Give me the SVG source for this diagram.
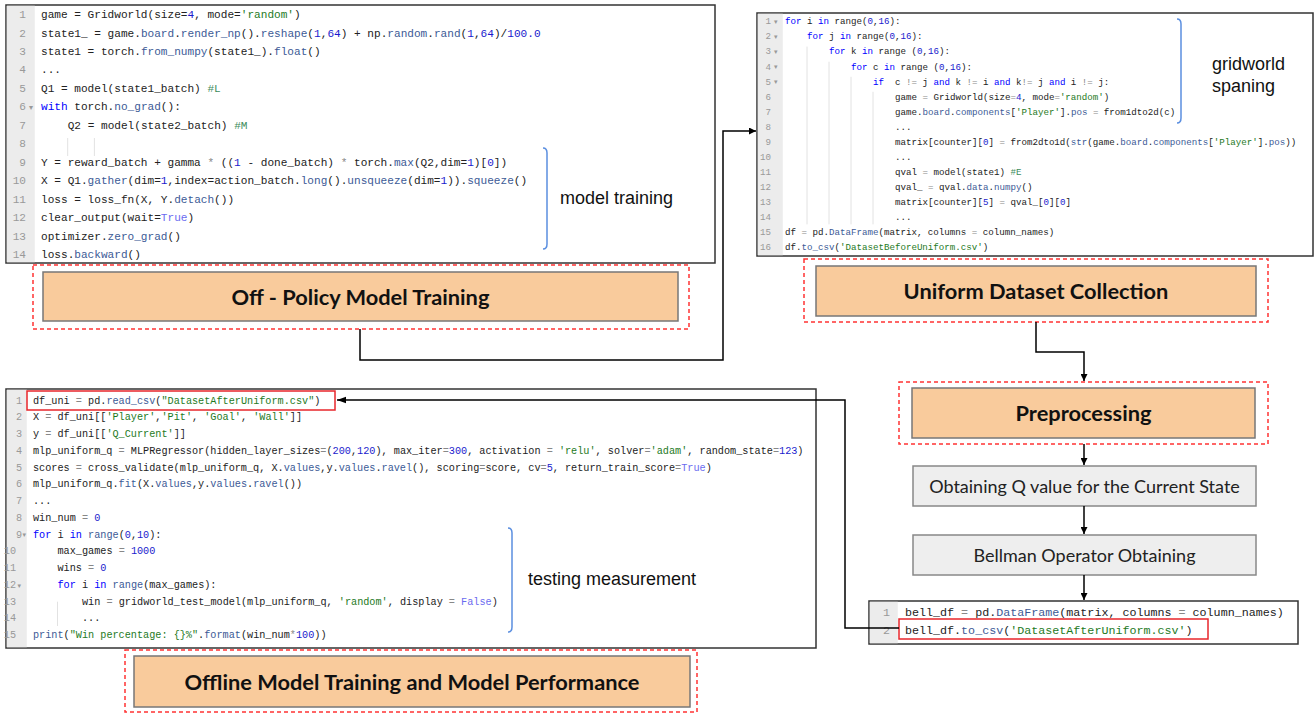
<svg xmlns="http://www.w3.org/2000/svg" width="1315" height="713" viewBox="0 0 1315 713">
<defs>
<marker id="ah" viewBox="0 0 10 10" refX="10" refY="5" markerWidth="7" markerHeight="7" markerUnits="userSpaceOnUse" orient="auto">
<path d="M0,0 L10,5 L0,10 z" fill="#000"/>
</marker>
<marker id="ah2" viewBox="0 0 10 10" refX="10" refY="5" markerWidth="9" markerHeight="9" orient="auto" markerUnits="userSpaceOnUse">
<path d="M0,1.5 L10,5 L0,8.5 z" fill="#000"/>
</marker>
</defs>
<style>
.code{font-family:"Liberation Mono","DejaVu Sans Mono",monospace;fill:#222;white-space:pre}
.kw{fill:#0000ff}
.fn{fill:#3c5a96}
.num{fill:#1a1acd}
.str{fill:#1e7a1e}
.cm{fill:#3c8c5c}
.op{fill:#888}
.cst{fill:#6b6bf0}
.ln{font-family:"Liberation Mono","DejaVu Sans Mono",monospace;fill:#999;text-anchor:end}
.fold{font-family:"DejaVu Sans",sans-serif;fill:#999}
.box{fill:#fff;stroke:#333;stroke-width:1.5}
.gut{fill:#ececec}
.guide{stroke:#e2e2e2;stroke-width:1}
.dash{fill:none;stroke:#ff3333;stroke-width:1.5;stroke-dasharray:4 3}
.org{fill:#f9cb9c;stroke:#777;stroke-width:1.5}
.gray{fill:#eeeeee;stroke:#888;stroke-width:1.5}
.title{font-family:Lato,"Liberation Sans",sans-serif;font-weight:bold;font-size:21.8px;fill:#111;text-anchor:middle}
.step{font-family:Lato,"Liberation Sans",sans-serif;font-size:18px;fill:#222;text-anchor:middle}
.note{font-family:"Liberation Sans",Arial,sans-serif;font-size:18px;fill:#111}
.brace{fill:none;stroke:#5b8fe0;stroke-width:1.5}
.conn{fill:none;stroke:#000;stroke-width:1.5}
.redbox{fill:none;stroke:#e8262b;stroke-width:1.5}
</style>

<!-- Top-left code: model training -->
<g id="code-model-training">
<rect class="box" x="6" y="5" width="709" height="258"/>
<rect class="gut" x="6.75" y="5.75" width="28" height="256.5"/>
<line class="guide" x1="67.7" y1="138" x2="67.7" y2="156"/>
<line class="guide" x1="94.4" y1="138" x2="94.4" y2="156"/>
<g font-size="11.1">
<text class="ln" x="26" y="18">1</text>
<text class="ln" x="26" y="36.5">2</text>
<text class="ln" x="26" y="55">3</text>
<text class="ln" x="26" y="73.4">4</text>
<text class="ln" x="26" y="91.9">5</text>
<text class="ln" x="26" y="110.3">6</text><text class="fold" x="29" y="110" font-size="8">▾</text>
<text class="ln" x="26" y="128.8">7</text>
<text class="ln" x="26" y="147.2">8</text>
<text class="ln" x="26" y="165.7">9</text>
<text class="ln" x="26" y="184.1">10</text>
<text class="ln" x="26" y="202.6">11</text>
<text class="ln" x="26" y="221">12</text>
<text class="ln" x="26" y="239.5">13</text>
<text class="ln" x="26" y="258">14</text>
<text class="code" x="41" y="18">game = Gridworld(size=<tspan class="num">4</tspan>, mode=<tspan class="str">'random'</tspan>)</text>
<text class="code" x="41" y="36.5">state1_ = game.<tspan class="fn">board</tspan>.<tspan class="fn">render_np</tspan>().<tspan class="fn">reshape</tspan>(<tspan class="num">1</tspan>,<tspan class="num">64</tspan>) + np.<tspan class="fn">random</tspan>.<tspan class="fn">rand</tspan>(<tspan class="num">1</tspan>,<tspan class="num">64</tspan>)/<tspan class="num">100.0</tspan></text>
<text class="code" x="41" y="55">state1 = torch.<tspan class="fn">from_numpy</tspan>(state1_).<tspan class="fn">float</tspan>()</text>
<text class="code" x="41" y="73.4">...</text>
<text class="code" x="41" y="91.9">Q1 = model(state1_batch) <tspan class="cm">#L</tspan></text>
<text class="code" x="41" y="110.3"><tspan class="kw">with</tspan> torch.<tspan class="fn">no_grad</tspan>():</text>
<text class="code" x="67.7" y="128.8">Q2 = model(state2_batch) <tspan class="cm">#M</tspan></text>
<text class="code" x="41" y="165.7">Y = reward_batch + gamma <tspan class="op">*</tspan> ((<tspan class="num">1</tspan> - done_batch) <tspan class="op">*</tspan> torch.<tspan class="fn">max</tspan>(Q2,dim=<tspan class="num">1</tspan>)[<tspan class="num">0</tspan>])</text>
<text class="code" x="41" y="184.1">X = Q1.<tspan class="fn">gather</tspan>(dim=<tspan class="num">1</tspan>,index=action_batch.<tspan class="fn">long</tspan>().<tspan class="fn">unsqueeze</tspan>(dim=<tspan class="num">1</tspan>)).<tspan class="fn">squeeze</tspan>()</text>
<text class="code" x="41" y="202.6">loss = loss_fn(X, Y.<tspan class="fn">detach</tspan>())</text>
<text class="code" x="41" y="221">clear_output(wait=<tspan class="cst">True</tspan>)</text>
<text class="code" x="41" y="239.5">optimizer.<tspan class="fn">zero_grad</tspan>()</text>
<text class="code" x="41" y="258">loss.<tspan class="fn">backward</tspan>()</text>
</g>
<path class="brace" d="M543,148 Q547,148 547,153 L547,244 Q547,249 543,249"/>
<text class="note" x="560" y="204">model training</text>
</g>

<g id="off-policy">
<rect class="dash" x="33" y="265" width="656" height="64"/>
<rect class="org" x="43" y="272" width="635" height="49"/>
<text class="title" x="360.5" y="304.5">Off - Policy Model Training</text>
</g>

<!-- Top-right code: gridworld spanning -->
<g id="code-gridworld">
<rect class="box" x="757" y="13" width="556" height="243"/>
<rect class="gut" x="757.75" y="13.75" width="25" height="241.5"/>
<line class="guide" x1="807" y1="46.6" x2="807" y2="224.4"/>
<line class="guide" x1="829" y1="61.7" x2="829" y2="224.4"/>
<line class="guide" x1="851" y1="76.8" x2="851" y2="224.4"/>
<line class="guide" x1="873" y1="91.8" x2="873" y2="224.4"/>
<g font-size="9.17">
<text class="ln" x="771" y="24.3">1</text><text class="fold" x="774" y="24" font-size="7">▾</text>
<text class="ln" x="771" y="39.4">2</text><text class="fold" x="774" y="39" font-size="7">▾</text>
<text class="ln" x="771" y="54.4">3</text><text class="fold" x="774" y="54" font-size="7">▾</text>
<text class="ln" x="771" y="69.5">4</text><text class="fold" x="774" y="69" font-size="7">▾</text>
<text class="ln" x="771" y="84.6">5</text><text class="fold" x="774" y="84" font-size="7">▾</text>
<text class="ln" x="771" y="99.6">6</text>
<text class="ln" x="771" y="114.7">7</text>
<text class="ln" x="771" y="129.8">8</text>
<text class="ln" x="771" y="144.9">9</text>
<text class="ln" x="771" y="159.9">10</text>
<text class="ln" x="771" y="175">11</text>
<text class="ln" x="771" y="190.1">12</text>
<text class="ln" x="771" y="205.1">13</text>
<text class="ln" x="771" y="220.2">14</text>
<text class="ln" x="771" y="235.3">15</text>
<text class="ln" x="771" y="250.3">16</text>
<text class="code" x="785" y="24.3"><tspan class="kw">for</tspan> i <tspan class="kw">in</tspan> range(<tspan class="num">0</tspan>,<tspan class="num">16</tspan>):</text>
<text class="code" x="807" y="39.4"><tspan class="kw">for</tspan> j <tspan class="kw">in</tspan> range(<tspan class="num">0</tspan>,<tspan class="num">16</tspan>):</text>
<text class="code" x="829" y="54.4"><tspan class="kw">for</tspan> k <tspan class="kw">in</tspan> range (<tspan class="num">0</tspan>,<tspan class="num">16</tspan>):</text>
<text class="code" x="851" y="69.5"><tspan class="kw">for</tspan> c <tspan class="kw">in</tspan> range (<tspan class="num">0</tspan>,<tspan class="num">16</tspan>):</text>
<text class="code" x="873" y="84.6"><tspan class="kw">if</tspan>  c <tspan class="op">!=</tspan> j <tspan class="kw">and</tspan> k <tspan class="op">!=</tspan> i <tspan class="kw">and</tspan> k<tspan class="op">!=</tspan> j <tspan class="kw">and</tspan> i <tspan class="op">!=</tspan> j:</text>
<text class="code" x="895" y="99.6">game <tspan class="op">=</tspan> Gridworld(size<tspan class="op">=</tspan><tspan class="num">4</tspan>, mode<tspan class="op">=</tspan><tspan class="str">'random'</tspan>)</text>
<text class="code" x="895" y="114.7">game.<tspan class="fn">board</tspan>.<tspan class="fn">components</tspan>[<tspan class="str">'Player'</tspan>].<tspan class="fn">pos</tspan> <tspan class="op">=</tspan> from1dto2d(c)</text>
<text class="code" x="895" y="129.8">...</text>
<text class="code" x="895" y="144.9">matrix[counter][<tspan class="num">0</tspan>] <tspan class="op">=</tspan> from2dto1d(<tspan class="fn">str</tspan>(game.<tspan class="fn">board</tspan>.<tspan class="fn">components</tspan>[<tspan class="str">'Player'</tspan>].<tspan class="fn">pos</tspan>))</text>
<text class="code" x="895" y="159.9">...</text>
<text class="code" x="895" y="175">qval <tspan class="op">=</tspan> model(state1) <tspan class="cm">#E</tspan></text>
<text class="code" x="895" y="190.1">qval_ <tspan class="op">=</tspan> qval.<tspan class="fn">data</tspan>.<tspan class="fn">numpy</tspan>()</text>
<text class="code" x="895" y="205.1">matrix[counter][<tspan class="num">5</tspan>] <tspan class="op">=</tspan> qval_[<tspan class="num">0</tspan>][<tspan class="num">0</tspan>]</text>
<text class="code" x="895" y="220.2">...</text>
<text class="code" x="785" y="235.3">df <tspan class="op">=</tspan> pd.<tspan class="fn">DataFrame</tspan>(matrix, columns <tspan class="op">=</tspan> column_names)</text>
<text class="code" x="785" y="250.3">df.<tspan class="fn">to_csv</tspan>(<tspan class="str">'DatasetBeforeUniform.csv'</tspan>)</text>
</g>
<path class="brace" d="M1177,19 Q1181,19 1181,24 L1181,118 Q1181,123 1177,123"/>
<text class="note" x="1212" y="70">gridworld</text>
<text class="note" x="1212" y="92">spaning</text>
</g>

<g id="uniform-dataset">
<rect class="dash" x="804" y="259" width="464" height="63"/>
<rect class="org" x="816" y="266" width="440" height="50"/>
<text class="title" x="1036" y="298.5">Uniform Dataset Collection</text>
</g>

<g id="preprocessing">
<rect class="dash" x="899" y="382" width="369" height="62"/>
<rect class="org" x="912" y="388" width="343" height="50"/>
<text class="title" x="1083.5" y="420.5">Preprocessing</text>
</g>

<g id="obtaining-q">
<rect class="gray" x="913" y="466" width="343" height="40"/>
<text class="step" x="1084.5" y="492.5">Obtaining Q value for the Current State</text>
</g>

<g id="bellman">
<rect class="gray" x="913" y="535" width="343" height="40"/>
<text class="step" x="1084.5" y="561.5">Bellman Operator Obtaining</text>
</g>

<!-- Bottom-right code -->
<g id="code-bellman">
<rect class="box" x="869" y="601" width="429" height="43"/>
<rect class="gut" x="869.75" y="601.75" width="28" height="41.5"/>
<g font-size="11.7">
<text class="ln" x="890" y="616">1</text>
<text class="ln" x="890" y="634">2</text>
<text class="code" x="905" y="616">bell_df <tspan class="op">=</tspan> pd.<tspan class="fn">DataFrame</tspan>(matrix, columns <tspan class="op">=</tspan> column_names)</text>
<text class="code" x="905" y="634">bell_df.<tspan class="fn">to_csv</tspan>(<tspan class="str">'DatasetAfterUniform.csv'</tspan>)</text>
</g>
<rect class="redbox" x="899" y="619" width="309" height="20"/>
</g>

<!-- Bottom-left code -->
<g id="code-testing">
<rect class="box" x="6" y="389" width="810" height="259"/>
<rect class="gut" x="6.75" y="389.75" width="20" height="257.5"/>
<line class="guide" x1="57.5" y1="601.7" x2="57.5" y2="626"/>
<g font-size="10.2">
<text class="ln" x="22" y="403.6">1</text>
<text class="ln" x="22" y="420.4">2</text>
<text class="ln" x="22" y="437.1">3</text>
<text class="ln" x="22" y="453.9">4</text>
<text class="ln" x="22" y="470.6">5</text>
<text class="ln" x="22" y="487.4">6</text>
<text class="ln" x="22" y="504.1">7</text>
<text class="ln" x="22" y="520.9">8</text>
<text class="ln" x="22" y="537.6">9</text><text class="fold" x="22.5" y="537.3" font-size="7">▾</text>
<text class="ln" x="16" y="554.4">10</text>
<text class="ln" x="16" y="571.1">11</text>
<text class="ln" x="16" y="587.9">12</text><text class="fold" x="17.5" y="587.6" font-size="7">▾</text>
<text class="ln" x="16" y="604.6">13</text>
<text class="ln" x="16" y="621.4">14</text>
<text class="ln" x="16" y="638.1">15</text>
<text class="code" x="33" y="403.6">df_uni <tspan class="op">=</tspan> pd.<tspan class="fn">read_csv</tspan>(<tspan class="str">"DatasetAfterUniform.csv"</tspan>)</text>
<text class="code" x="33" y="420.4">X <tspan class="op">=</tspan> df_uni[[<tspan class="str">'Player'</tspan>,<tspan class="str">'Pit'</tspan>, <tspan class="str">'Goal'</tspan>, <tspan class="str">'Wall'</tspan>]]</text>
<text class="code" x="33" y="437.1">y <tspan class="op">=</tspan> df_uni[[<tspan class="str">'Q_Current'</tspan>]]</text>
<text class="code" x="33" y="453.9">mlp_uniform_q <tspan class="op">=</tspan> MLPRegressor(hidden_layer_sizes<tspan class="op">=</tspan>(<tspan class="num">200</tspan>,<tspan class="num">120</tspan>), max_iter<tspan class="op">=</tspan><tspan class="num">300</tspan>, activation <tspan class="op">=</tspan> <tspan class="str">'relu'</tspan>, solver<tspan class="op">=</tspan><tspan class="str">'adam'</tspan>, random_state<tspan class="op">=</tspan><tspan class="num">123</tspan>)</text>
<text class="code" x="33" y="470.6">scores <tspan class="op">=</tspan> cross_validate(mlp_uniform_q, X.<tspan class="fn">values</tspan>,y.<tspan class="fn">values</tspan>.<tspan class="fn">ravel</tspan>(), scoring<tspan class="op">=</tspan>score, cv<tspan class="op">=</tspan><tspan class="num">5</tspan>, return_train_score<tspan class="op">=</tspan><tspan class="cst">True</tspan>)</text>
<text class="code" x="33" y="487.4">mlp_uniform_q.<tspan class="fn">fit</tspan>(X.<tspan class="fn">values</tspan>,y.<tspan class="fn">values</tspan>.<tspan class="fn">ravel</tspan>())</text>
<text class="code" x="33" y="504.1">...</text>
<text class="code" x="33" y="520.9">win_num <tspan class="op">=</tspan> <tspan class="num">0</tspan></text>
<text class="code" x="33" y="537.6"><tspan class="kw">for</tspan> i <tspan class="kw">in</tspan> <tspan class="fn">range</tspan>(<tspan class="num">0</tspan>,<tspan class="num">10</tspan>):</text>
<text class="code" x="57.5" y="554.4">max_games <tspan class="op">=</tspan> <tspan class="num">1000</tspan></text>
<text class="code" x="57.5" y="571.1">wins <tspan class="op">=</tspan> <tspan class="num">0</tspan></text>
<text class="code" x="57.5" y="587.9"><tspan class="kw">for</tspan> i <tspan class="kw">in</tspan> <tspan class="fn">range</tspan>(max_games):</text>
<text class="code" x="82" y="604.6">win <tspan class="op">=</tspan> gridworld_test_model(mlp_uniform_q, <tspan class="str">'random'</tspan>, display <tspan class="op">=</tspan> <tspan class="cst">False</tspan>)</text>
<text class="code" x="82" y="621.4">...</text>
<text class="code" x="33" y="638.1"><tspan class="fn">print</tspan>(<tspan class="str">"Win percentage: {}%"</tspan>.<tspan class="fn">format</tspan>(win_num<tspan class="op">*</tspan><tspan class="num">100</tspan>))</text>
</g>
<rect class="redbox" x="27" y="391" width="308" height="19"/>
<path class="brace" d="M508,528 Q512,528 512,533 L512,627 Q512,632 508,632"/>
<text class="note" x="528" y="585">testing measurement</text>
</g>

<g id="offline-training">
<rect class="dash" x="125" y="650" width="572" height="62"/>
<rect class="org" x="134" y="656" width="556" height="51"/>
<text class="title" x="412" y="689.5">Offline Model Training and Model Performance</text>
</g>

<g id="connectors">
<path class="conn" d="M360,329 V360 H723 V131 H756" marker-end="url(#ah)"/>
<path class="conn" d="M1036,322 V352 H1084 V381" marker-end="url(#ah)"/>
<path class="conn" d="M1084,444 V465" marker-end="url(#ah)"/>
<path class="conn" d="M1084,506 V534" marker-end="url(#ah)"/>
<path class="conn" d="M1084,575 V600" marker-end="url(#ah)"/>
<path class="conn" d="M899,628 H845 V400 H337" marker-end="url(#ah2)"/>
</g>
</svg>
